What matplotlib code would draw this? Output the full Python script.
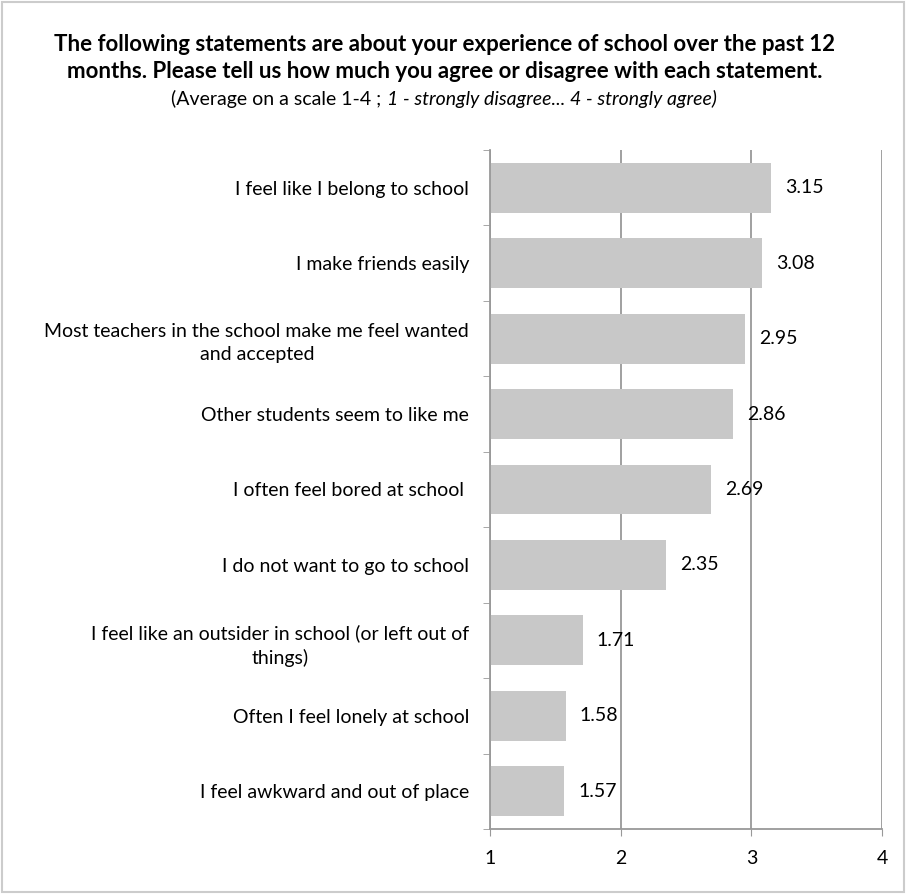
import matplotlib.pyplot as plt
from matplotlib.patches import Rectangle

statements = [
    "I feel like I belong to school",
    "I make friends easily",
    "Most teachers in the school make me feel wanted\nand accepted",
    "Other students seem to like me",
    "I often feel bored at school ",
    "I do not want to go to school",
    "I feel like an outsider in school (or left out of\nthings)",
    "Often I feel lonely at school",
    "I feel awkward and out of place",
]
averages = [3.15, 3.08, 2.95, 2.86, 2.69, 2.35, 1.71, 1.58, 1.57]
x_ticks = [1, 2, 3, 4]

plt.rcParams["font.family"] = ["Lato", "DejaVu Sans"]

fig = plt.figure(figsize=(9.06, 8.94), dpi=100)
ax = fig.add_axes([490 / 906, 1 - 829 / 894, 392 / 906, 679 / 894])

n = len(statements)
ypos = list(range(n))[::-1]
base = x_ticks[0]
ax.barh(ypos, [v - base for v in averages], left=base, height=0.66,
        color="#c8c8c8", zorder=2)

for y, v in zip(ypos, averages):
    ax.annotate(f"{v:.2f}", (v, y), xytext=(10, 0), textcoords="offset points",
                ha="left", va="center", fontsize=14, zorder=3)

ax.set_xlim(1, 4)
ax.set_ylim(-0.5, n - 0.5)
ax.set_xticks(x_ticks)
ax.set_xticklabels([str(t) for t in x_ticks], fontsize=14)
ax.set_yticks(ypos)
ax.set_yticklabels(statements, fontsize=14, ha="right", multialignment="center",
                   linespacing=1.45)
ax.tick_params(axis="y", length=0, pad=15)
ax.set_yticks([i - 0.5 for i in range(n + 1)], minor=True)
ax.tick_params(axis="y", which="minor", length=5, color="#999999", direction="out")
ax.tick_params(axis="x", length=5, color="#999999", direction="out", pad=10)

ax.grid(axis="x", color="#999999", linewidth=1.3, zorder=1)
for s in ["top", "right"]:
    ax.spines[s].set_visible(False)
for s in ["left", "bottom"]:
    ax.spines[s].set_color("#999999")
    ax.spines[s].set_linewidth(1.3)

fig.text(0.491, 1 - 58 / 894,
         "The following statements are about your experience of school over the past 12\n"
         "months. Please tell us how much you agree or disagree with each statement.",
         ha="center", va="center", fontsize=16, fontweight="bold", linespacing=1.4)

# subtitle: regular then italic part, joined by measuring text width
t1 = fig.text(0, 1 - 99 / 894, "(Average on a scale 1-4 ; ", ha="left", va="center",
              fontsize=14)
t2 = fig.text(0, 1 - 99 / 894, "1 - strongly disagree... 4 - strongly agree)",
              ha="left", va="center", fontsize=14, style="italic")
fig.canvas.draw()
r = fig.canvas.get_renderer()
w1 = t1.get_window_extent(r).width
w2 = t2.get_window_extent(r).width
x0 = (444 - (w1 + w2) / 2) / 906
t1.set_x(x0)
t2.set_x(x0 + w1 / 906)

fig.add_artist(Rectangle((0.002, 0.002), 0.996, 0.996, transform=fig.transFigure,
                         fill=False, edgecolor="#cccccc", linewidth=1.5))

fig.savefig("out.png", dpi=100)
